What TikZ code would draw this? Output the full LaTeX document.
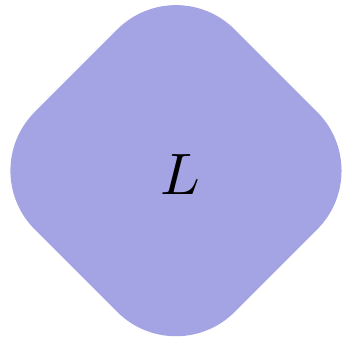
\documentclass[tikz,border=0pt]{standalone}
\usepackage{amsmath,amssymb}
\usetikzlibrary{shapes.geometric,positioning}
\definecolor{lavfill}{RGB}{164,164,228}
\tikzset{
  rdiam/.style = {diamond, aspect=1, fill=lavfill, inner sep=0pt, outer sep=0pt,
                  minimum size=68.4pt, rounded corners=14.2pt},
  lab/.style   = {inner sep=0pt},
}
\begin{document}
\begin{tikzpicture}[x=1pt,y=1pt]
  \useasboundingbox (0,0) rectangle (58.5,57.8);
  \node[rdiam] (dm) at (30.1,28.6) {};
  \node[lab] (lbl) at (30.9,28.0) {$L$};
\end{tikzpicture}
\end{document}
